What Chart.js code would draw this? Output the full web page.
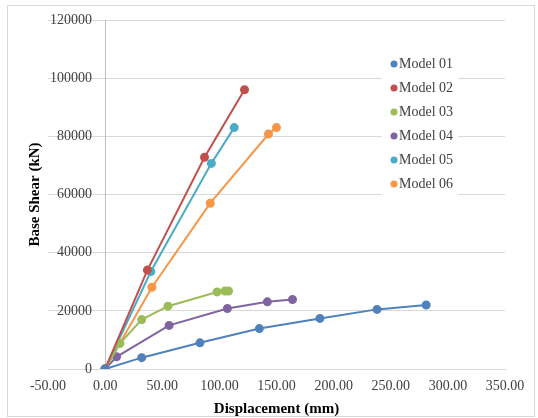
<!DOCTYPE html>
<html lang="en">
<head>
<meta charset="UTF-8">
<title>Base Shear vs Displacement</title>
<script src="https://cdn.jsdelivr.net/npm/chart.js"></script>
<style>
html, body { margin: 0; padding: 0; background: #fff; }
.wrap { width: 538px; height: 418px; position: relative; }
</style>
</head>
<body>
<div class="wrap"><canvas id="chart"></canvas></div>
<script>
// data (displacement in mm, base shear in kN)
const modelNames = ['Model 01', 'Model 02', 'Model 03', 'Model 04', 'Model 05', 'Model 06'];
const model01 = [[0, 0], [32, 3900], [83, 9000], [135, 13900], [188, 17400], [238, 20500], [281, 22000]];
const model02 = [[0, 0], [37, 34000], [87, 72800], [122, 96000]];
const model03 = [[0, 0], [13, 8800], [32, 17000], [55, 21600], [98, 26500], [105, 26800], [108, 26800]];
const model04 = [[0, 0], [10, 4200], [56, 15000], [107, 20800], [142, 23100], [164, 23900]];
const model05 = [[0, 0], [40, 33500], [93, 70700], [113, 83000]];
const model06 = [[0, 0], [41, 28100], [92, 57000], [143, 80800], [150, 83000]];
const xTicks = [-50, 0, 50, 100, 150, 200, 250, 300, 350];
const yTicks = [0, 20000, 40000, 60000, 80000, 100000, 120000];

const seriesData = [model01, model02, model03, model04, model05, model06];
const colors = ['#4F81BD', '#C0504D', '#9BBB59', '#8064A2', '#4BACC6', '#F79646'];
const serif = '"Liberation Serif", "Times New Roman", serif';

const datasets = seriesData.map((pts, i) => ({
  label: modelNames[i],
  data: pts.map(p => ({ x: p[0], y: p[1] })),
  borderColor: colors[i],
  backgroundColor: colors[i],
  borderWidth: 2,
  pointRadius: 3.5,
  pointHoverRadius: 3.5,
  showLine: true,
  tension: 0,
  yAxisID: 'y'
}));

// frame, y title and the legend box over the plot
const extras = {
  id: 'extras',
  beforeDraw(chart) {
    const c = chart.ctx;
    c.save();
    c.fillStyle = '#fff';
    c.fillRect(0, 0, chart.width, chart.height);
    c.strokeStyle = '#d9d9d9';
    c.lineWidth = 1;
    c.strokeRect(7.5, 5.5, 527, 411);
    c.restore();
  },
  afterDraw(chart) {
    const c = chart.ctx;
    const area = chart.chartArea;
    c.save();
    c.translate(35, (area.top + area.bottom) / 2);
    c.rotate(-Math.PI / 2);
    c.font = 'bold 15px ' + serif;
    c.fillStyle = '#000';
    c.textAlign = 'center';
    c.textBaseline = 'middle';
    c.fillText('Base Shear (kN)', 0, 0);
    c.restore();

    c.save();
    c.fillStyle = '#fff';
    c.fillRect(382, 52, 76, 144);
    c.font = '14px ' + serif;
    c.textBaseline = 'middle';
    chart.data.datasets.forEach((ds, i) => {
      const y = 64 + i * 24;
      c.fillStyle = ds.borderColor;
      c.beginPath();
      c.arc(394, y, 3.5, 0, Math.PI * 2);
      c.fill();
      c.fillStyle = '#404040';
      c.fillText(ds.label, 399, y);
    });
    c.restore();
  }
};

const yRange = {
  type: 'linear',
  min: yTicks[0],
  max: yTicks[yTicks.length - 1],
  afterBuildTicks: s => { s.ticks = yTicks.map(v => ({ value: v })); }
};

new Chart(document.getElementById('chart'), {
  type: 'scatter',
  data: { datasets },
  plugins: [extras],
  options: {
    responsive: true,
    maintainAspectRatio: false,
    animation: false,
    layout: { padding: { left: 48, right: 33, top: 20, bottom: 0 } },
    plugins: { legend: { display: false }, tooltip: { enabled: false } },
    scales: {
      x: {
        type: 'linear',
        min: xTicks[0],
        max: xTicks[xTicks.length - 1],
        afterBuildTicks: s => { s.ticks = xTicks.map(v => ({ value: v })); },
        afterFit: s => { s.height = 49; },
        grid: { display: false, drawTicks: false },
        border: { display: true, color: '#d9d9d9', width: 1 },
        ticks: {
          padding: 9,
          color: '#404040',
          font: { family: serif, size: 14 },
          maxRotation: 0,
          callback: v => v.toFixed(2)
        },
        title: {
          display: true,
          text: 'Displacement (mm)',
          color: '#000',
          font: { family: serif, size: 15, weight: 'bold' },
          padding: { top: 0, bottom: 0 }
        }
      },
      // vertical axis line and gridlines, crossing at x = 0
      y: Object.assign({}, yRange, {
        position: { x: 0 },
        grid: { color: '#d9d9d9', drawTicks: false },
        border: { display: true, color: '#bfbfbf', width: 1 },
        ticks: { display: false }
      }),
      // tick labels, set a little left of the axis line
      yLabels: Object.assign({}, yRange, {
        position: { x: -11.5 },
        grid: { display: false, drawTicks: false },
        border: { display: false },
        ticks: {
          color: '#404040',
          font: { family: serif, size: 14 },
          callback: v => String(v)
        }
      })
    }
  }
});
</script>
</body>
</html>
